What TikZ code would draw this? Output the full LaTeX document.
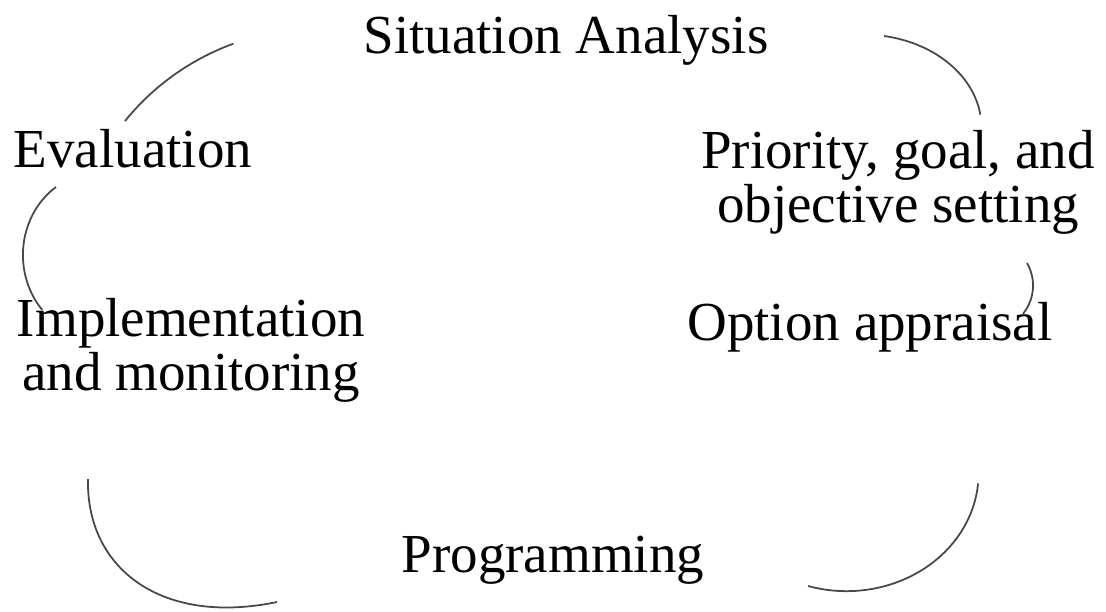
\documentclass[tikz,border=0pt]{standalone}
\usepackage{fontspec}
\setmainfont{Liberation Serif}

\begin{document}
\begin{tikzpicture}[x=0.02cm, y=-0.02cm,
    stage/.style={font=\fontsize{31.3}{30.2}\selectfont, inner sep=0pt, align=center, anchor=base},
    loop/.style={draw=black!72, line width=1pt}
]
\useasboundingbox (0,0) rectangle (1106,612);

% stages of the cycle (base = last line)
\node[stage] (sit) at (566,53) {Situation Analysis};
\node[stage] (prio) at (898,222) {Priority, goal, and\\objective setting};
\node[stage] (opt) at (870,340) {Option appraisal};
\node[stage] (prog) at (553,572) {Programming};
\node[stage] (impl) at (191,390) {Implementation\\and monitoring};
\node[stage] (eval) at (133,167) {Evaluation};

% arcs round the cycle
\coordinate (sitprio) at (884,36);
\coordinate (prioopt) at (1027,263);
\coordinate (optprog) at (808,586);
\coordinate (progimpl) at (277,602);
\coordinate (impleval) at (56,187);
\coordinate (evalsit) at (125,121);
\coordinate (implstart) at (88,479);

\draw[loop] (sitprio) arc[start angle=-80, end angle=-8, x radius=118, y radius=93];
\draw[loop] (prioopt) arc[start angle=-30, end angle=39, radius=45];
\draw[loop] (optprog) arc[start angle=107, end angle=5, x radius=132, y radius=118];
\draw[loop] (implstart) .. controls +(-2,90) and +(-115,24) .. (progimpl);
\draw[loop] (impleval) arc[start angle=236, end angle=138, x radius=75, y radius=82];
\draw[loop] (evalsit) arc[start angle=219, end angle=250, radius=249];
\end{tikzpicture}
\end{document}
